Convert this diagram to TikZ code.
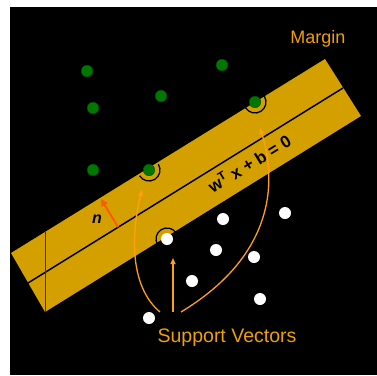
\documentclass[tikz,border=0pt]{standalone}
\usepackage{fontspec}
\setmainfont{Liberation Sans}
\usetikzlibrary{arrows.meta}
\definecolor{bandgold}{RGB}{212,160,0}
\definecolor{txtorange}{RGB}{240,160,0}
\definecolor{curveorange}{RGB}{255,160,20}
\definecolor{nred}{RGB}{255,90,0}
\definecolor{dotgreen}{RGB}{0,120,0}
\definecolor{vline}{RGB}{70,52,0}
\tikzset{
  gdot/.style={circle,fill=dotgreen,draw=dotgreen!70!black,line width=0.4pt,inner sep=0pt,minimum size=11.5pt},
  wdot/.style={circle,fill=white,inner sep=0pt,minimum size=12pt},
  svarc/.style={draw=black,line width=1.3pt},
  svarrow/.style={draw=curveorange,line width=1.3pt,-{Triangle[length=6pt,width=5pt]}},
  lbl/.style={inner sep=0pt}
}
\begin{document}
\begin{tikzpicture}[x=1pt,y=-1pt]
\useasboundingbox (0,0) rectangle (377,375);
\fill[white] (0,0) rectangle (377,375);
\fill[black] (10,7) rectangle (377,375);
% band
\fill[bandgold] (11,253) -- (325,59) -- (361,116) -- (45,312) -- cycle;
\coordinate (cl1) at (28,283);
\coordinate (cl2) at (343,88);
\draw[black,line width=1.5pt] (cl1) -- (cl2);
\coordinate (vl1) at (45,232);
\coordinate (vl2) at (45,312);
\draw[vline,line width=1pt] (vl1) -- (vl2);
% support vector arcs
\draw[svarc] (149,170) ++(-31.7:11) arc[start angle=-31.7,end angle=148.3,radius=11];
\draw[svarc] (255,102) ++(-31.7:11) arc[start angle=-31.7,end angle=148.3,radius=11];
\draw[svarc] (167,239) ++(148.3:11) arc[start angle=148.3,end angle=328.3,radius=11];
% arrows to support vectors
\coordinate (s1) at (160,312);
\coordinate (t1) at (142,190);
\coordinate (s2) at (173,312);
\coordinate (t2) at (173,258);
\coordinate (s3) at (181,312);
\coordinate (t3) at (260,128);
\draw[svarrow] (s1) .. controls (128,285) and (132,230) .. (t1);
\draw[svarrow] (s2) -- (t2);
\draw[svarrow] (s3) .. controls (280,252) and (275,175) .. (t3);
% normal arrow
\coordinate (n1) at (118,227);
\coordinate (n2) at (101,199);
\draw[nred,line width=2pt,-{Triangle[length=7pt,width=7pt]}] (n1) -- (n2);
% dots
\node[gdot] (g1) at (87,71) {};
\node[gdot] (g2) at (222,65) {};
\node[gdot] (g3) at (93,108) {};
\node[gdot] (g4) at (161,96) {};
\node[gdot] (g5) at (255,102) {};
\node[gdot] (g6) at (93,170) {};
\node[gdot] (g7) at (149,170) {};
\node[wdot] (w1) at (223,219) {};
\node[wdot] (w2) at (285,213) {};
\node[wdot] (w3) at (167,239) {};
\node[wdot] (w4) at (216,250) {};
\node[wdot] (w5) at (254,257) {};
\node[wdot] (w6) at (192,281) {};
\node[wdot] (w7) at (260,299) {};
\node[wdot] (w8) at (149,318) {};
% texts
\node[lbl,text=txtorange,font=\fontsize{18}{20}\selectfont] (margin) at (318,39) {Margin};
\node[lbl,text=txtorange,font=\fontsize{19.5}{22}\selectfont] (sv) at (227,338) {Support Vectors};
\node[lbl,font=\fontsize{17}{19}\selectfont\bfseries,rotate=31.7] (eq) at (249,163) {w\textsuperscript{T} x + b = 0};
\node[lbl,font=\fontsize{16}{18}\selectfont\bfseries\itshape] (nlab) at (97,219) {n};
\end{tikzpicture}
\end{document}
